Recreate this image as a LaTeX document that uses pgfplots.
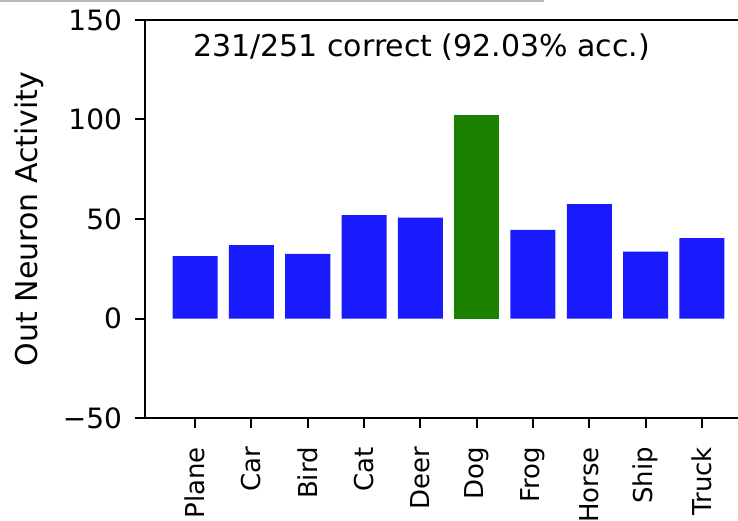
\documentclass[border=0pt]{standalone}
\usepackage{pgfplots}
\pgfplotsset{compat=1.18}
\usepackage{fontspec}
\setmainfont{DejaVu Sans}
\definecolor{mplblue}{HTML}{1A1AFF}
\definecolor{mplgreen}{HTML}{1B7F00}
\begin{document}
\begin{tikzpicture}
\begin{axis}[
  at={(72.5pt,51pt)}, anchor=south west,
  scale only axis, width=303.5pt, height=199pt,
  xmin=-0.89, xmax=9.89, ymin=-50, ymax=150,
  tick pos=left,
  tick align=outside,
  major tick length=5pt,
  every tick/.style={black, line width=1pt},
  axis line style={line width=1pt},
  xtick={0,...,9},
  xticklabels={Plane,Car,Bird,Cat,Deer,Dog,Frog,Horse,Ship,Truck},
  xticklabel style={rotate=90, anchor=east, font=\fontsize{13}{16}\selectfont},
  xticklabel shift=6pt,
  ytick={-50,0,50,100,150},
  yticklabels={−50,0,50,100,150},
  yticklabel style={font=\fontsize{14}{17}\selectfont, xshift=-3pt},
  ylabel={Out Neuron Activity},
  ylabel style={at={(axis description cs:-0.19,0.5)}, anchor=center, font=\fontsize{15}{18}\selectfont},
  clip=false,
]
\addplot[ybar, bar width=0.8, bar shift=0, fill=mplblue, draw=none] coordinates {(0,31.4) (1,36.9) (2,32.5) (3,52.0) (4,50.7) (6,44.5) (7,57.5) (8,33.6) (9,40.4)};
\addplot[ybar, bar width=0.8, bar shift=0, fill=mplgreen, draw=none] coordinates {(5,102.1)};
\node[anchor=west, font=\fontsize{15}{18}\selectfont, inner sep=0pt] at (axis cs:-0.04,136.4) {231/251 correct (92.03\% acc.)};
\end{axis}
\pgfresetboundingbox
\path[use as bounding box] (0,0) rectangle (369pt,260pt);
\draw[gray!55, line width=1pt] (0,259.5pt) -- (272pt,259.5pt);
\end{tikzpicture}
\end{document}
